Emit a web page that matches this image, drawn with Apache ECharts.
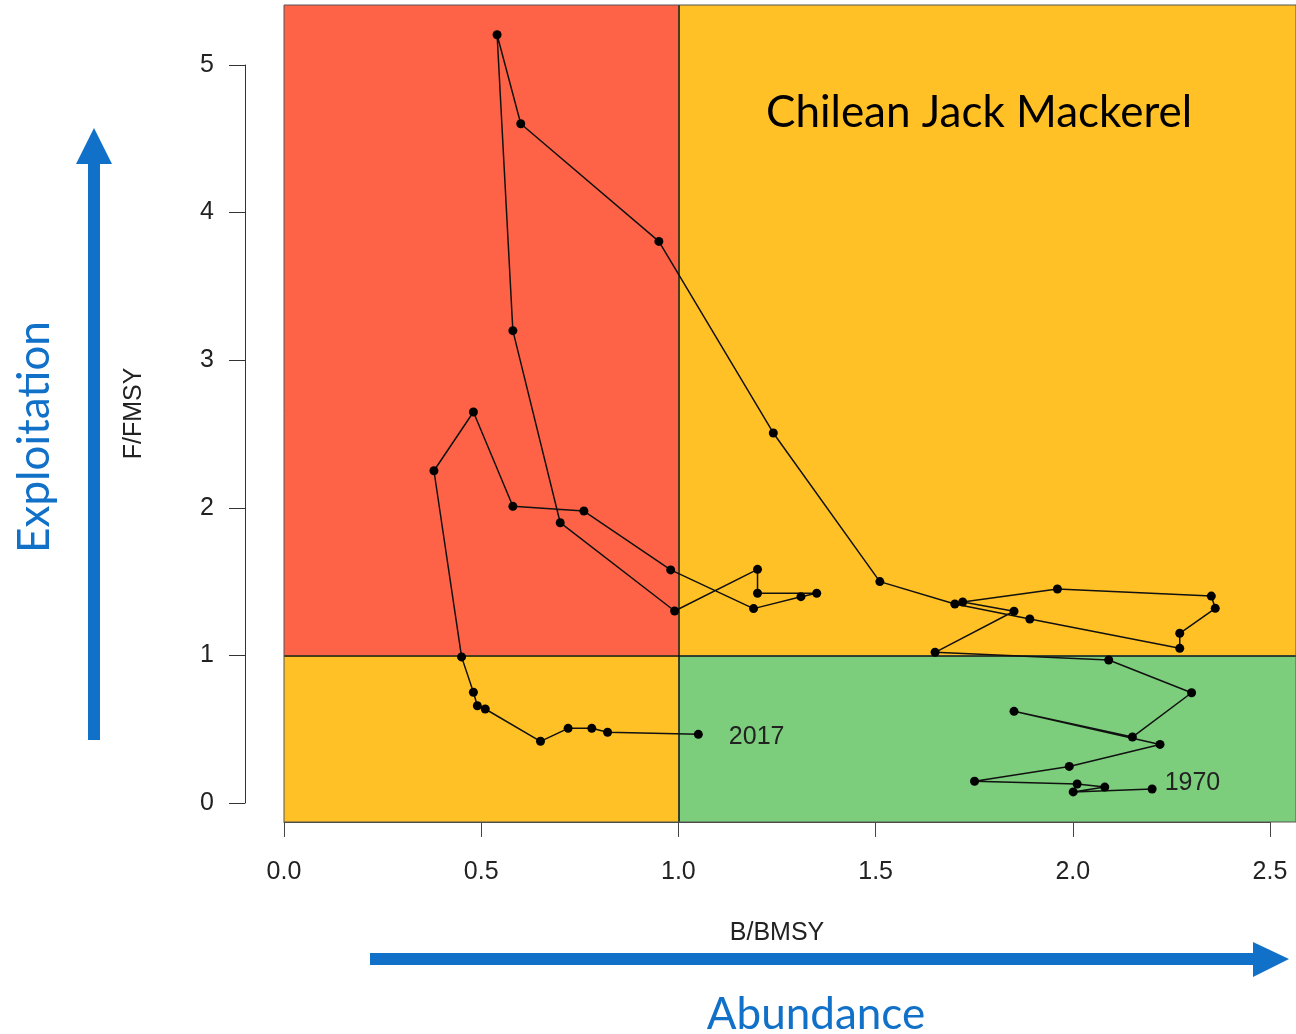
<!DOCTYPE html>
<html>
<head>
<meta charset="utf-8">
<script src="https://cdn.jsdelivr.net/npm/echarts@6/dist/echarts.min.js"></script>
<style>
html,body{margin:0;padding:0;background:#fff;}
#c{width:1296px;height:1034px;}
</style>
</head>
<body>
<div id="c"></div>
<script>
// ---- data ----
const years = [1970,1971,1972,1973,1974,1975,1976,1977,1978,1979,1980,1981,1982,1983,1984,1985,1986,1987,1988,1989,1990,1991,1992,1993,1994,1995,1996,1997,1998,1999,2000,2001,2002,2003,2004,2005,2006,2007,2008,2009,2010,2011,2012,2013,2014,2015,2016,2017];
const bRatio = [2.20,2.00,2.08,2.01,1.75,1.99,2.22,1.85,2.15,2.30,2.09,1.65,1.85,1.72,1.96,2.35,2.36,2.27,2.27,1.89,1.70,1.51,1.24,0.95,0.60,0.54,0.58,0.70,0.99,1.20,1.20,1.35,1.31,1.19,0.98,0.76,0.58,0.48,0.38,0.45,0.48,0.49,0.51,0.65,0.72,0.78,0.82,1.05];
const fRatio = [0.095,0.075,0.108,0.129,0.147,0.248,0.397,0.621,0.447,0.747,0.969,1.021,1.299,1.362,1.450,1.402,1.319,1.150,1.048,1.247,1.348,1.500,2.507,3.805,4.602,5.205,3.200,1.899,1.301,1.583,1.421,1.421,1.398,1.317,1.579,1.978,2.010,2.649,2.251,0.990,0.750,0.659,0.637,0.418,0.506,0.506,0.479,0.465];
const xTicks = [0, 0.5, 1, 1.5, 2, 2.5];
const yTicks = [0, 1, 2, 3, 4, 5];
const refB = 1, refF = 1;

// plot extent
const X_MIN = 0, X_MAX = 2.5646;
const Y_MIN = -0.1287, Y_MAX = 5.4065;

const BLUE = '#1170C8';
const RED = '#FF6347', YEL = '#FFC125', GRN = '#7CCD7C';
const AX_FONT = '"Liberation Sans", Arial, Helvetica, sans-serif';
const TITLE_FONT = 'Lato, "Open Sans", sans-serif';
const FS = 25;

const pts = years.map((y, i) => {
  const p = { value: [bRatio[i], fRatio[i]] };
  if (i === 0) p.label = { show: true, formatter: String(y), position: 'right', distance: 8, offset: [0, -6] };
  if (i === years.length - 1) p.label = { show: true, formatter: String(y), position: 'right', distance: 26, offset: [0, 3] };
  return p;
});

const chart = echarts.init(document.getElementById('c'), null, { renderer: 'canvas' });
chart.setOption({
  animation: false,
  backgroundColor: '#fff',
  grid: [
    { left: 284, top: 5, width: 1012, height: 817, show: true, borderColor: '#555', borderWidth: 1, backgroundColor: 'transparent', z: 10 },
    { left: 245, top: 65, width: 10, height: 738 },
    { left: 284, top: 821, width: 986, height: 1 }
  ],
  xAxis: [
    { gridIndex: 0, type: 'value', min: X_MIN, max: X_MAX, show: false },
    { gridIndex: 1, type: 'value', min: 0, max: 1, show: false },
    { gridIndex: 2, type: 'value', min: 0, max: 2.5, interval: 0.5, position: 'bottom',
      axisLine: { show: true, lineStyle: { color: '#444', width: 1 } },
      axisTick: { show: true, length: 15, lineStyle: { color: '#444', width: 1 } },
      axisLabel: { show: true, margin: 38, fontSize: FS, color: '#222', fontFamily: AX_FONT,
        formatter: v => xTicks.some(t => Math.abs(t - v) < 1e-9) ? v.toFixed(1) : '' },
      splitLine: { show: false },
      name: 'B/BMSY', nameLocation: 'middle', nameGap: 99,
      nameTextStyle: { fontSize: FS, color: '#222', fontFamily: AX_FONT } }
  ],
  yAxis: [
    { gridIndex: 0, type: 'value', min: Y_MIN, max: Y_MAX, show: true,
      axisLine: { show: false }, axisTick: { show: false }, axisLabel: { show: false }, splitLine: { show: false },
      name: 'F/FMSY', nameLocation: 'middle', nameGap: 137, nameRotate: 90,
      nameTextStyle: { fontSize: FS, color: '#222', fontFamily: AX_FONT } },
    { gridIndex: 1, type: 'value', min: 0, max: 5, interval: 1, position: 'left',
      axisLine: { show: true, lineStyle: { color: '#333', width: 1 } },
      axisTick: { show: true, length: 16, lineStyle: { color: '#333', width: 1 } },
      axisLabel: { show: true, margin: 31, fontSize: FS, color: '#222', fontFamily: AX_FONT,
        formatter: v => yTicks.includes(v) ? String(v) : '' },
      splitLine: { show: false } },
    { gridIndex: 2, type: 'value', min: 0, max: 1, show: false }
  ],
  series: [
    { type: 'scatter', xAxisIndex: 0, yAxisIndex: 0, data: [], z: 1, silent: true,
      markArea: { silent: true, data: [
        [{ coord: [X_MIN, refF], itemStyle: { color: RED } }, { coord: [refB, Y_MAX] }],
        [{ coord: [refB, refF], itemStyle: { color: YEL } }, { coord: [X_MAX, Y_MAX] }],
        [{ coord: [X_MIN, Y_MIN], itemStyle: { color: YEL } }, { coord: [refB, refF] }],
        [{ coord: [refB, Y_MIN], itemStyle: { color: GRN } }, { coord: [X_MAX, refF] }]
      ] } },
    { type: 'scatter', xAxisIndex: 0, yAxisIndex: 0, data: [], z: 2, silent: true,
      markLine: { silent: true, symbol: 'none', label: { show: false },
        lineStyle: { color: '#111', width: 1.5, type: 'solid' },
        data: [{ xAxis: refB }, { yAxis: refF }] } },
    { type: 'line', xAxisIndex: 0, yAxisIndex: 0, z: 5, data: pts,
      symbol: 'circle', symbolSize: 9,
      itemStyle: { color: '#000' },
      lineStyle: { color: '#111', width: 1.5 },
      label: { color: '#222', fontSize: FS, fontFamily: AX_FONT } }
  ],
  graphic: [
    { type: 'text', left: 766, top: 91, z: 20,
      style: { text: 'Chilean Jack Mackerel', fontSize: 44, fontFamily: TITLE_FONT, fill: '#000' } },
    { type: 'text', x: 35, y: 437, rotation: Math.PI / 2, z: 20,
      style: { text: 'Exploitation', fontSize: 44, fontFamily: TITLE_FONT, fill: BLUE, align: 'center', verticalAlign: 'middle' } },
    { type: 'text', x: 816, y: 1015, z: 20,
      style: { text: 'Abundance', fontSize: 44, fontFamily: TITLE_FONT, fill: BLUE, align: 'center', verticalAlign: 'middle' } },
    { type: 'polygon', z: 20,
      shape: { points: [[88,740],[100,740],[100,164],[112,164],[94,128],[76,164],[88,164]] },
      style: { fill: BLUE } },
    { type: 'polygon', z: 20,
      shape: { points: [[370,953],[1253,953],[1253,942],[1289,959],[1253,977],[1253,965],[370,965]] },
      style: { fill: BLUE } }
  ]
});
</script>
</body>
</html>
